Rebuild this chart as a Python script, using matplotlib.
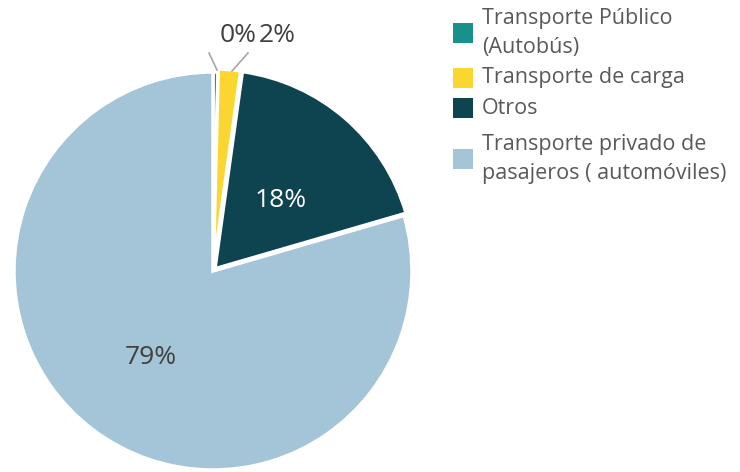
import numpy as np
import matplotlib.pyplot as plt
from matplotlib.patches import Rectangle

plt.rcParams['font.family'] = ['Open Sans', 'DejaVu Sans']

labels = ["Transporte Público\n(Autobús)", "Transporte de carga", "Otros",
          "Transporte privado de\npasajeros ( automóviles)"]
values = [0.4, 1.8, 18.3, 79.5]
pct_labels = ["0%", "2%", "18%", "79%"]
colors = ["#17918A", "#FCD630", "#0D4450", "#A4C4D8"]

W, H = 740, 472
fig = plt.figure(figsize=(W / 100, H / 100), dpi=100)
ax = fig.add_axes([0, 0, 1, 1])

cx, cy, r = 213, H - 271, 199
wedges, _ = ax.pie(values, colors=colors, startangle=90, counterclock=False,
                   center=(cx, cy), radius=r, explode=[0, 3, 3, 0],
                   wedgeprops=dict(edgecolor="white", linewidth=2.5))

# percentage labels inside the big slices
cum = np.cumsum([0] + values)
for i in (2, 3):
    mid = 90 - (cum[i] + cum[i + 1]) / 2 * 3.6
    x = cx + 0.52 * r * np.cos(np.radians(mid))
    y = cy + 0.52 * r * np.sin(np.radians(mid))
    ax.text(x, y - 8 if i == 2 else y - 4, pct_labels[i], ha="center", va="center",
            fontsize=19, color="white" if i == 2 else "#404040")

# small slices: labels outside with leader lines
ax.plot([209, 217], [H - 53, H - 70], color="#A6A6A6", lw=1.2)
ax.plot([248, 232], [H - 53, H - 71], color="#A6A6A6", lw=1.2)
ax.text(238, H - 36, pct_labels[0], ha="center", va="center", fontsize=19, color="#404040")
ax.text(277, H - 36, pct_labels[1], ha="center", va="center", fontsize=19, color="#404040")

# legend
leg_y = [33, 78, 108, 159]
for lab, col, y in zip(labels, colors, leg_y):
    ax.add_patch(Rectangle((453, H - y - 10), 20, 20, facecolor=col, edgecolor="none"))
    ax.text(482, H - y, lab, ha="left", va="center", fontsize=15.5, color="#595959",
            linespacing=1.45)

ax.set_xlim(0, W)
ax.set_ylim(0, H)
ax.set_aspect("equal")
ax.axis("off")

plt.savefig("out.png", dpi=100)
